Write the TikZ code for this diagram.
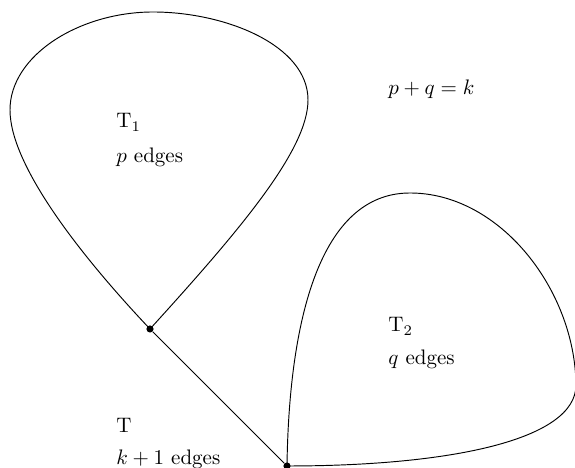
\documentclass[tikz,border=0pt]{standalone}
\begin{document}
\begin{tikzpicture}[x=0.476pt,y=-0.476pt,
  curve/.style={line width=0.45pt},
  dot/.style={circle,fill=black,inner sep=0pt,minimum size=3.4pt},
  lbl/.style={anchor=base west,inner sep=0pt}]
\useasboundingbox (0,0) rectangle (575,468);
\node[dot] (d1) at (150,329) {};
\node[dot] (d2) at (287,466) {};
\draw[curve] (d1.center) .. controls (240,230) and (308,150) .. (308,100)
  .. controls (308,45) and (225,12) .. (153,12)
  .. controls (80,12) and (10,55) .. (10,110)
  .. controls (10,165) and (80,255) .. (d1.center);
\draw[curve] (d2.center) .. controls (289,320) and (320,193) .. (410,193)
  .. controls (500,193) and (575,290) .. (576,385)
  .. controls (576,440) and (450,466) .. (d2.center);
\draw[curve] (d1) -- (d2);
\node[lbl] (t1) at (116,128) {T$_1$};
\node[lbl] (p) at (116,163) {$p$ edges};
\node[lbl] (pq) at (388,95) {$p+q=k$};
\node[lbl] (t2) at (388,332) {T$_2$};
\node[lbl] (q) at (388,365) {$q$ edges};
\node[lbl] (t) at (116,433) {T};
\node[lbl] (k) at (116,465) {$k+1$ edges};
\end{tikzpicture}
\end{document}
